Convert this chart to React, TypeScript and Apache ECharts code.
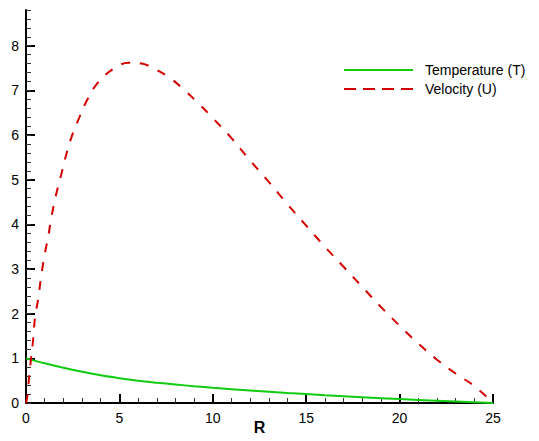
import React, { useEffect, useRef } from "react";
import * as echarts from "echarts";

// Temperature (T) profile along R
const R_T = [0, 1, 2, 3, 4, 5, 6, 7, 8, 9, 10, 12, 14, 16, 18, 20, 22, 24, 25];
const T = [1.0, 0.89, 0.79, 0.7, 0.62, 0.555, 0.5, 0.455, 0.415, 0.375, 0.34, 0.28, 0.225, 0.175, 0.13, 0.088, 0.05, 0.017, 0.0];

// Velocity (U) profile along R
const R_U = [0, 0.07, 0.16, 0.27, 0.39, 0.48, 0.66, 0.8, 0.98, 1.19, 1.37, 1.59, 1.86, 2.12, 2.44, 2.84, 3.28, 3.84, 4.67, 5.5, 6.2, 6.8, 7.7, 8.5, 9.3, 10, 11, 12, 13, 14, 15, 16, 17, 18, 19, 20, 21, 22, 23, 24, 25];
const U = [0, 0.14, 0.55, 1.0, 1.45, 1.9, 2.35, 2.8, 3.28, 3.73, 4.18, 4.63, 5.07, 5.51, 5.96, 6.38, 6.79, 7.17, 7.48, 7.62, 7.6, 7.5, 7.28, 7.0, 6.68, 6.38, 5.93, 5.43, 4.95, 4.45, 3.97, 3.5, 3.05, 2.6, 2.15, 1.73, 1.33, 0.97, 0.66, 0.38, 0.0];

// Axis ticks
const X_MAX = 25;
const Y_MAX = 8.8;
const Y_MAJOR = [0, 1, 2, 3, 4, 5, 6, 7, 8];

const SERIES_NAMES = ["Temperature (T)", "Velocity (U)"];

export default function App() {
  const ref = useRef<HTMLDivElement>(null);
  useEffect(() => {
    if (!ref.current) return;
    const chart = echarts.init(ref.current, null, { renderer: "svg" });
    const font = "'Liberation Sans', Arial, sans-serif";
    chart.setOption({
      animation: false,
      backgroundColor: "#ffffff",
      textStyle: { fontFamily: font },
      grid: { left: 26, right: 46, top: 10, bottom: 38, containLabel: false, outerBoundsMode: "none" },
      legend: {
        orient: "vertical",
        left: 343,
        top: 63,
        padding: 0,
        itemWidth: 69,
        itemHeight: 14,
        itemGap: 5,
        itemStyle: { opacity: 0 },
        textStyle: { fontSize: 14, lineHeight: 14, color: "#000", fontFamily: font, padding: [0, 0, 0, 7] },
        data: [
          { name: SERIES_NAMES[0] },
          { name: SERIES_NAMES[1], lineStyle: { type: [12, 7] } },
        ],
      },
      xAxis: {
        type: "value",
        min: 0,
        max: X_MAX,
        interval: 5,
        name: "R",
        nameLocation: "middle",
        nameGap: 16,
        nameMoveOverlap: false,
        nameTextStyle: { fontSize: 16, fontWeight: "bold", color: "#000", fontFamily: font },
        axisLine: { show: true, onZero: false, lineStyle: { color: "#000", width: 2 } },
        axisTick: { show: true, inside: true, length: 9, lineStyle: { color: "#000", width: 2 } },
        minorTick: { show: true, splitNumber: 5, length: 5, lineStyle: { color: "#333", width: 1 } },
        axisLabel: { fontSize: 14, color: "#000", margin: 8, fontFamily: font },
        splitLine: { show: false },
        minorSplitLine: { show: false },
      },
      yAxis: [
        {
          type: "value",
          position: "left",
          min: 0,
          max: Y_MAX,
          interval: 1,
          axisLine: { show: true, onZero: false, lineStyle: { color: "#000", width: 2 } },
          axisTick: { show: true, inside: true, length: 9, customValues: Y_MAJOR, lineStyle: { color: "#000", width: 2 } },
          axisLabel: { fontSize: 14, color: "#000", margin: 7, customValues: Y_MAJOR, fontFamily: font },
          splitLine: { show: false },
        },
        {
          type: "value",
          position: "left",
          offset: 0,
          min: 0,
          max: Y_MAX,
          interval: 0.2,
          axisLine: { show: false },
          axisTick: { show: true, inside: true, length: 5, lineStyle: { color: "#333", width: 1 } },
          axisLabel: { show: false },
          splitLine: { show: false },
        },
      ],
      series: [
        {
          name: SERIES_NAMES[0],
          type: "line",
          yAxisIndex: 0,
          data: R_T.map((r, i) => [r, T[i]]),
          showSymbol: false,
          symbol: "none",
          smooth: 0.4,
          lineStyle: { color: "#10cc10", width: 2 },
          itemStyle: { color: "#10cc10" },
        },
        {
          name: SERIES_NAMES[1],
          type: "line",
          yAxisIndex: 0,
          data: R_U.map((r, i) => [r, U[i]]),
          showSymbol: false,
          symbol: "none",
          smooth: 0.4,
          lineStyle: { color: "#d40000", width: 2, type: [9, 10] },
          itemStyle: { color: "#d40000" },
        },
      ],
    });
    return () => chart.dispose();
  }, []);
  return <div ref={ref} style={{ position: "fixed", left: 0, top: 0, width: 539, height: 441 }} />;
}
